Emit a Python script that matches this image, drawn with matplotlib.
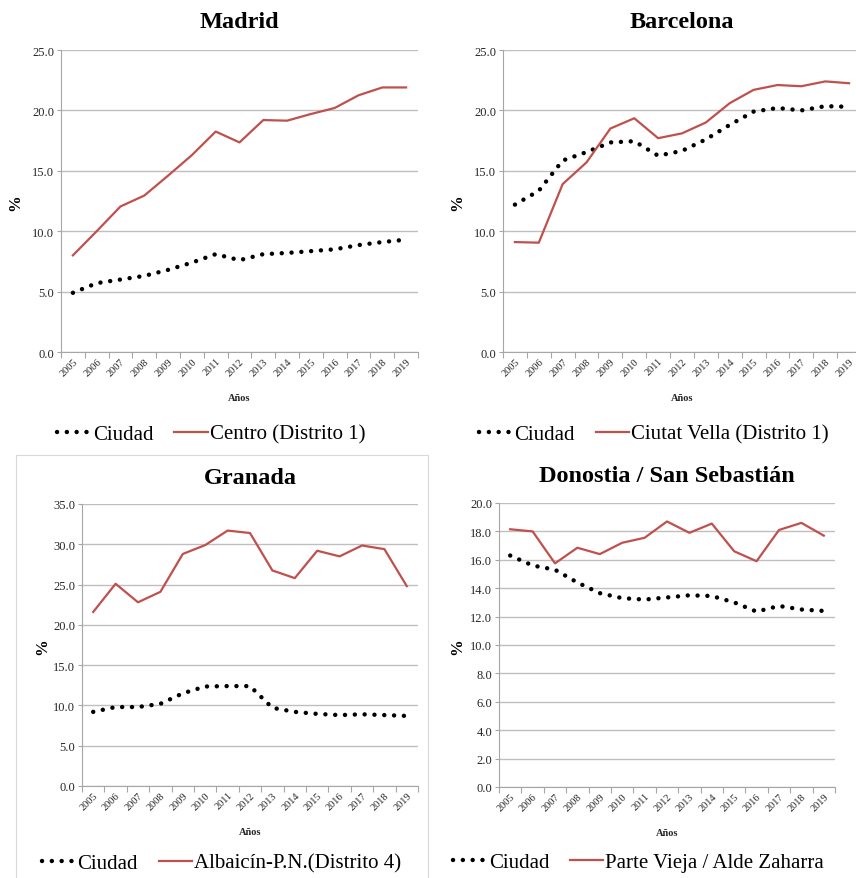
import numpy as np
from matplotlib import pyplot as plt
from matplotlib.patches import Rectangle
from matplotlib.ticker import FormatStrFormatter, FixedLocator

plt.rcParams['font.family'] = ['Liberation Serif', 'DejaVu Serif']

# Datos
years = [str(y) for y in range(2005, 2020)]

madrid_ciudad = [4.9, 5.7, 6.0, 6.3, 6.8, 7.4, 8.1, 7.6, 8.1, 8.2, 8.35, 8.5, 8.85, 9.1, 9.3]
madrid_centro = [8.0, 10.0, 12.05, 12.95, 14.6, 16.3, 18.25, 17.35, 19.2, 19.15, 19.7, 20.2, 21.25, 21.9, 21.9]

bcn_ciudad = [12.2, 13.35, 15.85, 16.55, 17.35, 17.45, 16.25, 16.65, 17.6, 18.8, 19.9, 20.2, 20.0, 20.35, 20.3]
bcn_ciutat_vella = [9.1, 9.05, 13.9, 15.7, 18.5, 19.35, 17.7, 18.1, 19.0, 20.6, 21.7, 22.1, 22.0, 22.4, 22.25]

gra_ciudad = [9.2, 9.8, 9.8, 10.2, 11.5, 12.35, 12.4, 12.4, 9.7, 9.2, 8.95, 8.8, 8.9, 8.8, 8.7]
gra_albaicin = [21.6, 25.1, 22.8, 24.1, 28.8, 29.9, 31.7, 31.4, 26.75, 25.8, 29.2, 28.5, 29.85, 29.4, 24.8]

don_ciudad = [16.3, 15.6, 15.3, 14.4, 13.65, 13.3, 13.2, 13.35, 13.5, 13.45, 13.0, 12.35, 12.75, 12.5, 12.4]
don_parte_vieja = [18.15, 18.0, 15.75, 16.85, 16.4, 17.2, 17.55, 18.7, 17.9, 18.55, 16.6, 15.9, 18.1, 18.6, 17.7]

W, H = 856, 879
fig = plt.figure(figsize=(W / 100, H / 100), dpi=100)

red = '#C0504D'
grid_c = '#BFBFBF'
txt_c = '#262626'

# (titulo, ciudad, distrito, etiqueta, ymax, paso,
#  ejes en px [izq, arriba, der, abajo], y titulo, y leyenda, x del "%")
panels = [
    ('Madrid', madrid_ciudad, madrid_centro, 'Centro (Distrito 1)', 25, 5,
     [61, 51, 418, 353], 23, 435, 15),
    ('Barcelona', bcn_ciudad, bcn_ciutat_vella, 'Ciutat Vella (Distrito 1)', 25, 5,
     [503, 51, 861, 353], 23, 435, 457),
    ('Granada', gra_ciudad, gra_albaicin, 'Albaicín-P.N.(Distrito 4)', 35, 5,
     [82, 505, 418, 787], 479, 864, 42),
    ('Donostia / San Sebastián', don_ciudad, don_parte_vieja, 'Parte Vieja / Alde Zaharra', 20, 2,
     [499, 504, 835, 788], 477, 863, 457),
]

# borde del panel de Granada
fig.patches.append(Rectangle((16 / W, -0.01), 412 / W, (H - 456) / H + 0.01,
                             transform=fig.transFigure, fill=False,
                             edgecolor='#D9D9D9', lw=0.8))

x = np.arange(len(years)) + 0.5

for title, ciudad, distrito, lab, ymax, step, box, ty, ly, px in panels:
    l, t, r, b = box
    ax = fig.add_axes([l / W, 1 - b / H, (r - l) / W, (b - t) / H])
    ax.plot(x, ciudad, color='black', lw=3.2, linestyle=(0, (0.01, 2.2)),
            dash_capstyle='round', label='Ciudad', zorder=3)
    ax.plot(x, distrito, color=red, lw=1.6, label=lab, zorder=3)
    ax.set_xlim(0, len(years))
    ax.set_ylim(0, ymax)
    ax.set_yticks(np.arange(0, ymax + 0.01, step))
    ax.yaxis.set_major_formatter(FormatStrFormatter('%.1f'))
    ax.set_xticks(np.arange(0, len(years) + 1))
    ax.set_xticklabels([])
    ax.xaxis.set_minor_locator(FixedLocator(x))
    ax.set_xticklabels(years, minor=True, rotation=45, ha='right',
                       rotation_mode='anchor', fontsize=7.5, color=txt_c)
    ax.tick_params(axis='x', which='minor', length=0, pad=3)
    ax.tick_params(axis='x', which='major', length=4, color='#A6A6A6')
    ax.tick_params(axis='y', length=3, color='#A6A6A6', labelsize=9,
                   labelcolor=txt_c, pad=2)
    ax.grid(axis='y', color=grid_c, lw=1)
    ax.set_axisbelow(True)
    for s in ['top', 'right']:
        ax.spines[s].set_visible(False)
    for s in ['left', 'bottom']:
        ax.spines[s].set_color('#A6A6A6')

    mid = (l + r) / 2 / W
    fig.text(mid, 1 - ty / H, title, ha='center', va='center',
             fontsize=17.5, fontweight='bold')
    fig.text(px / W, 1 - ((t + b) / 2 + 1) / H, '%', rotation=90, ha='center',
             va='center', fontsize=12, fontweight='bold')
    fig.text(mid, 1 - (b + 46) / H, 'Años', ha='center', va='center',
             fontsize=7.5, fontweight='bold', color=txt_c)
    fig.legend(handles=ax.get_lines(), loc='center',
               bbox_to_anchor=(mid - 0.033, 1 - ly / H),
               ncol=2, frameon=False, fontsize=15, handlelength=1.6,
               handletextpad=0.1, columnspacing=1.0, borderaxespad=0)

plt.savefig('out.png', dpi=100)
